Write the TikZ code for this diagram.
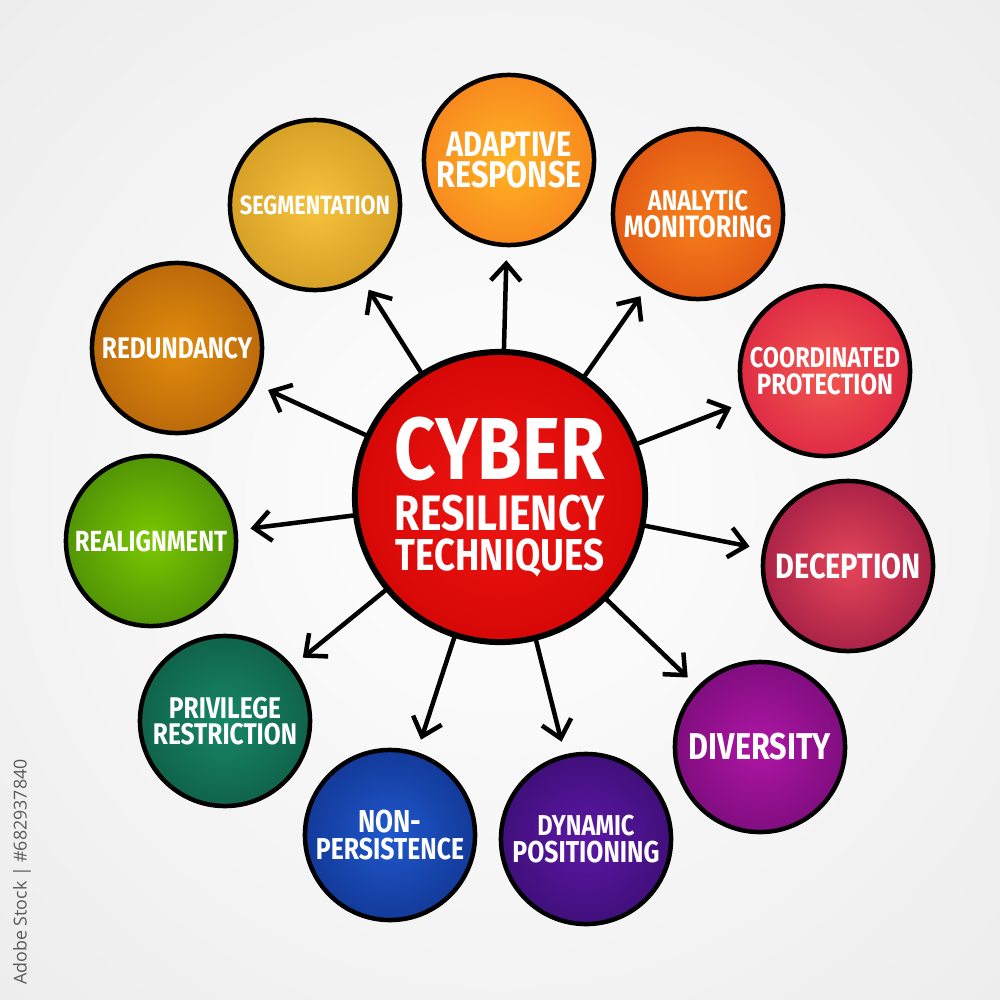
\documentclass[tikz,border=0pt]{standalone}
\usepackage{fontspec}
\setmainfont{Fira Sans}
\newfontfamily\hand{Fira Sans}[FakeStretch=0.82]
\newfontfamily\wmfont{Open Sans}
\usetikzlibrary{arrows.meta}
\makeatletter
\pgfdeclareradialshading[tikz@radial@inner,tikz@radial@outer]{glow}{\pgfpoint{0bp}{0bp}}{color(0bp)=(tikz@radial@inner); color(40bp)=(tikz@radial@outer); color(50bp)=(tikz@radial@outer)}
\makeatother
\setlength{\lineskip}{0.035cm}
\definecolor{hubin}{RGB}{240,22,18}
\definecolor{hubout}{RGB}{198,0,0}
\definecolor{adin}{RGB}{255,180,35}
\definecolor{adout}{RGB}{243,112,28}
\definecolor{anin}{RGB}{248,130,28}
\definecolor{anout}{RGB}{212,66,14}
\definecolor{coin}{RGB}{242,88,80}
\definecolor{coout}{RGB}{212,18,62}
\definecolor{dein}{RGB}{230,70,88}
\definecolor{deout}{RGB}{135,14,62}
\definecolor{dvin}{RGB}{175,22,165}
\definecolor{dvout}{RGB}{100,8,105}
\definecolor{dyin}{RGB}{92,24,165}
\definecolor{dyout}{RGB}{48,10,98}
\definecolor{nopin}{RGB}{32,88,205}
\definecolor{nopout}{RGB}{10,40,122}
\definecolor{prin}{RGB}{24,135,102}
\definecolor{prout}{RGB}{10,78,58}
\definecolor{rain}{RGB}{122,200,0}
\definecolor{raout}{RGB}{58,118,10}
\definecolor{rdin}{RGB}{226,140,12}
\definecolor{rdout}{RGB}{165,86,10}
\definecolor{sgin}{RGB}{246,195,60}
\definecolor{sgout}{RGB}{196,140,26}
\definecolor{wmgray}{RGB}{90,90,90}
\newcommand\lbl[2]{\resizebox{#1cm}{!}{#2}}
\begin{document}
\begin{tikzpicture}[x=0.01cm,y=-0.01cm,
  bubble/.style={circle, draw=black, line width=0.045cm, minimum size=1.70cm,
    inner sep=0pt, align=center, text=white,
    font=\hand\bfseries\fontsize{8}{0}\selectfont},
  orb/.style 2 args={bubble, inner color=#1, outer color=#2, shading=glow},
  hub/.style={circle, draw=black, line width=0.06cm, minimum size=2.9cm,
    inner sep=0pt, align=center, text=white,
    inner color=hubin, outer color=hubout, shading=glow,
    font=\hand\bfseries\fontsize{8}{0}\selectfont},
  link/.style={line width=0.045cm, line cap=round, line join=round,
    -{Straight Barb[length=0.17cm,width=0.3cm]}, shorten >=0.13cm}
]
\useasboundingbox (0,0) rectangle (1000,1000);
\shade[inner color=white, outer color=black!8, shading=glow] (0,0) rectangle (1000,1000);

\node[rotate=90, text=wmgray, font=\wmfont] (wm) at (22,872) {\lbl{2.25}{Adobe Stock | \#682937840}};

\node[hub] (c) at (500,497) {\lbl{2.10}{CYBER}\\[0.11cm]\lbl{2.10}{RESILIENCY}\\[0.04cm]\lbl{2.08}{TECHNIQUES}};

\node[orb={adin}{adout}] (ad) at (509,160) {\lbl{1.25}{ADAPTIVE}\\[0.015cm]\lbl{1.45}{RESPONSE}};
\node[orb={anin}{anout}] (an) at (698,214) {\lbl{1.00}{ANALYTIC}\\[0.015cm]\lbl{1.48}{MONITORING}};
\node[orb={coin}{coout}] (co) at (825,371) {\lbl{1.50}{COORDINATED}\\[0.015cm]\lbl{1.36}{PROTECTION}};
\node[orb={dein}{deout}] (de) at (848,566) {\lbl{1.45}{DECEPTION}};
\node[orb={dvin}{dvout}] (dv) at (760,747) {\lbl{1.42}{DIVERSITY}};
\node[orb={dyin}{dyout}] (dy) at (586,839) {\lbl{0.97}{DYNAMIC}\\[0.015cm]\lbl{1.47}{POSITIONING}};
\node[orb={nopin}{nopout}] (np) at (390,835) {\lbl{0.63}{NON-}\\[0.015cm]\lbl{1.48}{PERSISTENCE}};
\node[orb={prin}{prout}] (pr) at (225,721) {\lbl{1.12}{PRIVILEGE}\\[0.015cm]\lbl{1.44}{RESTRICTION}};
\node[orb={rain}{raout}] (ra) at (151,541) {\lbl{1.52}{REALIGNMENT}};
\node[orb={rdin}{rdout}] (rd) at (177,348) {\lbl{1.50}{REDUNDANCY}};
\node[orb={sgin}{sgout}] (sg) at (315,205) {\lbl{1.50}{SEGMENTATION}};

\foreach \t in {ad,an,co,de,dv,dy,np,pr,ra,rd,sg}
  \draw[link] (c) -- (\t);
\end{tikzpicture}
\end{document}
